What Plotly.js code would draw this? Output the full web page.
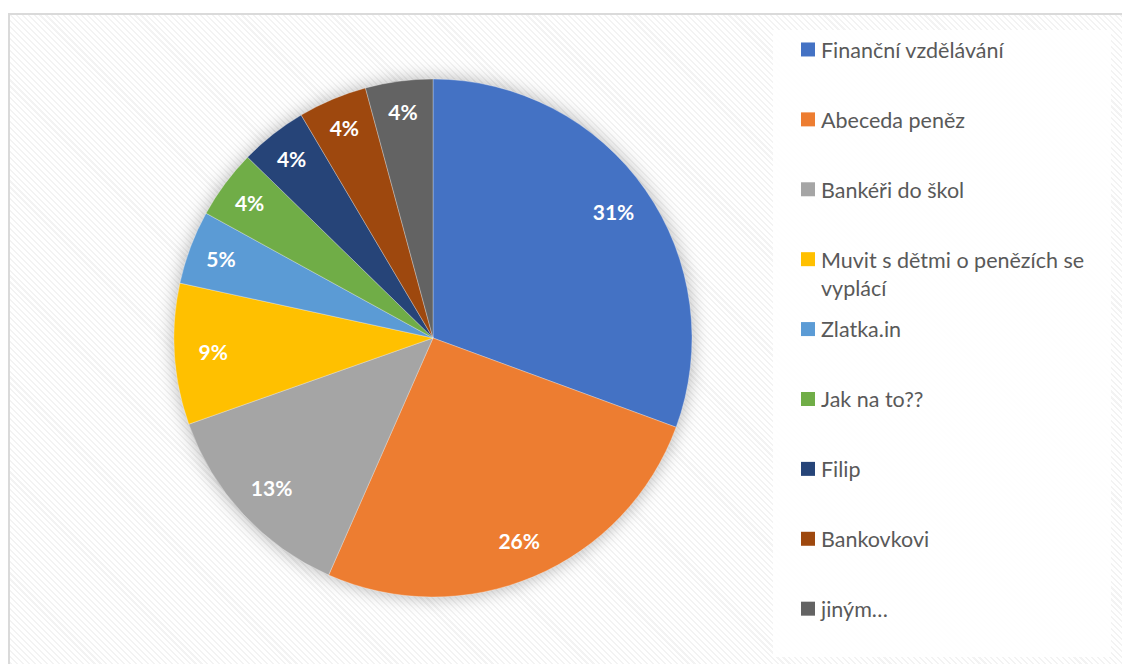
<!DOCTYPE html>
<html>
<head>
<meta charset="utf-8">
<script src="https://cdn.plot.ly/plotly-3.0.1.min.js"></script>
<style>
  html, body { margin: 0; padding: 0; width: 1122px; height: 664px; overflow: hidden; background: #ffffff; }
  #frame {
    position: absolute; left: 8px; top: 13px; width: 1130px; height: 670px;
    border: 2px solid #dadada; box-sizing: border-box;
    background: repeating-linear-gradient(45deg, #f3f3f3 0px, #f3f3f3 1.5px, #ffffff 1.5px, #ffffff 4.2px);
  }
  #chart { position: absolute; left: 0; top: 0; width: 1122px; height: 664px; }
  .pielayer .trace:first-child { filter: drop-shadow(0px 0px 9px rgba(0,0,0,0.3)); }
  .legend .legendtext { transform: translateX(-7px); }
</style>
</head>
<body>
<div id="frame"></div>
<div id="chart"></div>
<script>
// Data
const categories = [
  'Finanční vzdělávání',
  'Abeceda peněz',
  'Bankéři do škol',
  'Muvit s dětmi o penězích se<br>vyplácí',
  'Zlatka.in',
  'Jak na to??',
  'Filip',
  'Bankovkovi',
  'jiným…'
];
const shares = [30.6, 26.0, 13.0, 8.8, 4.6, 4.3, 4.2, 4.3, 4.2];
const colors = ['#4472C4', '#ED7D31', '#A5A5A5', '#FFC000', '#5B9BD5', '#70AD47', '#264478', '#9E480E', '#636363'];

const W = 1122, H = 664;
const cx = 433, cy = 338, R = 259;
const pieDomain = {
  x: [(cx - R) / W, (cx + R) / W],
  y: [1 - (cy + R) / H, 1 - (cy - R) / H]
};

const traces = [
  {
    type: 'pie',
    labels: categories,
    values: shares,
    sort: false,
    direction: 'clockwise',
    rotation: 0,
    domain: pieDomain,
    marker: { colors: colors, line: { color: 'rgba(255,255,255,0.5)', width: 0.6 } },
    textinfo: 'none',
    showlegend: false,
    hoverinfo: 'label+percent'
  },
  {
    // transparent ring used only to place the percentage labels near the rim
    type: 'pie',
    labels: categories,
    values: shares,
    sort: false,
    direction: 'clockwise',
    rotation: 0,
    hole: 0.7,
    domain: pieDomain,
    marker: { colors: categories.map(() => 'rgba(0,0,0,0)'), line: { width: 0 } },
    texttemplate: '%{percent:.0%}',
    textposition: 'inside',
    insidetextorientation: 'horizontal',
    insidetextfont: { family: 'Lato, "Open Sans", sans-serif', size: 21, color: '#ffffff', weight: 'bold' },
    showlegend: false,
    hoverinfo: 'skip'
  }
];

// legend entries (one group each so spacing can be controlled)
categories.forEach((c, i) => {
  const twoLine = c.indexOf('<br>') >= 0;
  traces.push({
    type: 'scatter',
    x: [null], y: [null],
    mode: 'markers',
    name: twoLine ? c : c + '<br>\u00a0',
    legendgroup: 'g' + i,
    marker: { symbol: 'square', size: 14, color: colors[i], line: { width: 0 } },
    showlegend: true,
    hoverinfo: 'skip'
  });
});

const layout = {
  width: W, height: H,
  margin: { l: 0, r: 0, t: 0, b: 0 },
  paper_bgcolor: 'rgba(0,0,0,0)',
  plot_bgcolor: 'rgba(0,0,0,0)',
  xaxis: { visible: false, fixedrange: true },
  yaxis: { visible: false, fixedrange: true },
  showlegend: true,
  legend: {
    x: 788 / W, xanchor: 'left',
    y: 1 - 29 / H, yanchor: 'top',
    orientation: 'v',
    valign: 'top',
    bgcolor: 'rgba(0,0,0,0)',
    borderwidth: 0,
    tracegroupgap: 11,
    font: { family: 'Lato, "Open Sans", sans-serif', size: 21.5, color: '#595959' }
  },
  shapes: [
    {
      type: 'rect', xref: 'paper', yref: 'paper',
      x0: 773 / W, x1: 1111 / W, y0: 1 - 657 / H, y1: 1 - 30 / H,
      fillcolor: 'rgba(255,255,255,0.9)', line: { width: 0 }, layer: 'below'
    }
  ]
};

Plotly.newPlot('chart', traces, layout, { staticPlot: true, displayModeBar: false });
</script>
</body>
</html>
